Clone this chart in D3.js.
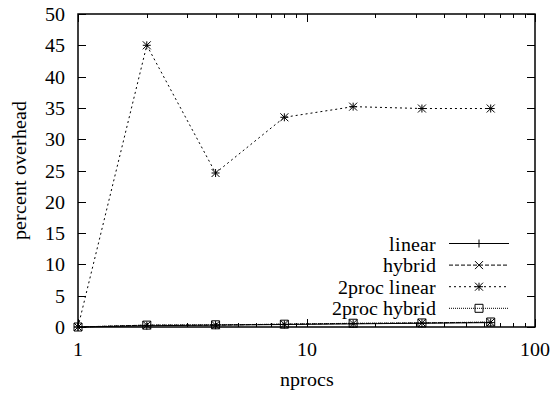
<!DOCTYPE html>
<html>
<head>
<meta charset="utf-8">
<script src="https://cdn.jsdelivr.net/npm/d3@7"></script>
<style>
  @font-face { font-family: "PlotSerif"; src: local("Liberation Serif"), local("LiberationSerif"), local("Liberation Serif Regular"), local("LiberationSerif-Regular"); }
  body { margin: 0; background: #fff; }
  svg text { font-family: "PlotSerif", "Liberation Serif", "Times New Roman", Tinos, serif !important; }
</style>
</head>
<body>
<script>
let width = 552;
let height = 396;
let margin = {left: 78, right: 17, top: 14, bottom: 69};
let fontFamily = '"PlotSerif", "Liberation Serif", "Times New Roman", Tinos, serif';
let fontSize = 20;

// data
let nprocs = [1, 2, 4, 8, 16, 32, 64];
let linear = [0, 0.2, 0.3, 0.4, 0.5, 0.6, 0.7];
let hybrid = [0, 0.3, 0.3, 0.45, 0.55, 0.65, 0.75];
let twoprocLinear = [0, 45, 24.6, 33.5, 35.2, 34.9, 34.9];
let twoprocHybrid = [0, 0.3, 0.35, 0.45, 0.6, 0.65, 0.8];
let yTicks = [0, 5, 10, 15, 20, 25, 30, 35, 40, 45, 50];
let xTicks = [1, 10, 100];

let series = [
    {name: "linear", values: linear, dash: null, point: "plus"},
    {name: "hybrid", values: hybrid, dash: "4,2", point: "cross"},
    {name: "2proc linear", values: twoprocLinear, dash: "2,3", point: "star"},
    {name: "2proc hybrid", values: twoprocHybrid, dash: "1,1", point: "box"}
];

let x = d3.scaleLog().domain([1, 100]).range([margin.left, width - margin.right]);
let y = d3.scaleLinear().domain([0, 50]).range([height - margin.bottom, margin.top]);

let svg = d3.select("body").append("svg")
    .attr("width", width)
    .attr("height", height);

let x0 = x.range()[0], x1 = x.range()[1];
let y0 = y.range()[0], y1 = y.range()[1];

function label(g, str) {
    return g.append("text")
        .attr("font-size", fontSize)
        .attr("font-family", fontFamily)
        .text(str);
}

// ticks (gnuplot style, inward + mirrored)
let ticks = svg.append("g").attr("stroke", "#000").attr("stroke-width", 1);
yTicks.forEach(v => {
    let yy = Math.round(y(v)) + 0.5;
    ticks.append("line").attr("x1", x0).attr("x2", x0 + 8).attr("y1", yy).attr("y2", yy);
    ticks.append("line").attr("x1", x1).attr("x2", x1 - 8).attr("y1", yy).attr("y2", yy);
});
let minor = [];
for (let d = 1; d < 100; d *= 10) for (let k = 1; k <= 10; k++) if (d * k <= 100) minor.push(d * k);
minor.forEach(v => {
    let major = xTicks.includes(v);
    let len = major ? 8 : 4;
    let xx = Math.round(x(v)) + 0.5;
    ticks.append("line").attr("x1", xx).attr("x2", xx).attr("y1", y0).attr("y2", y0 - len);
    ticks.append("line").attr("x1", xx).attr("x2", xx).attr("y1", y1).attr("y2", y1 + len);
});

// tick labels
let labels = svg.append("g");
yTicks.forEach(v => {
    label(labels, v).attr("text-anchor", "end")
        .attr("x", x0 - 13).attr("y", y(v)).attr("dy", "0.35em");
});
xTicks.forEach(v => {
    label(labels, v).attr("text-anchor", "middle")
        .attr("x", x(v)).attr("y", y0 + 29);
});

// axis titles
label(svg, "nprocs").attr("text-anchor", "middle")
    .attr("x", (x0 + x1) / 2).attr("y", y0 + 59);
label(svg, "percent overhead").attr("text-anchor", "middle")
    .attr("transform", `translate(26,${(y0 + y1) / 2}) rotate(-90)`);

function marker(g, type, cx, cy) {
    let s = 4;
    let p = g.append("path").attr("fill", "none").attr("stroke", "#000").attr("stroke-width", 1);
    if (type === "plus") p.attr("d", `M${cx - s},${cy}H${cx + s}M${cx},${cy - s}V${cy + s}`);
    if (type === "cross") p.attr("d", `M${cx - s},${cy - s}L${cx + s},${cy + s}M${cx - s},${cy + s}L${cx + s},${cy - s}`);
    if (type === "star") p.attr("d", `M${cx - s},${cy}H${cx + s}M${cx},${cy - s}V${cy + s}M${cx - s},${cy - s}L${cx + s},${cy + s}M${cx - s},${cy + s}L${cx + s},${cy - s}`);
    if (type === "box") p.attr("d", `M${cx - s},${cy - s}H${cx + s}V${cy + s}H${cx - s}Z`);
}

let line = d3.line().x(d => x(d[0])).y(d => y(d[1]));

let plot = svg.append("g");
series.forEach(s => {
    let pts = nprocs.map((n, i) => [n, s.values[i]]);
    plot.append("path")
        .attr("d", line(pts))
        .attr("fill", "none")
        .attr("stroke", "#000")
        .attr("stroke-width", 1)
        .attr("stroke-dasharray", s.dash);
    pts.forEach(p => marker(plot, s.point, x(p[0]), y(p[1])));
});

// legend
let legend = svg.append("g");
series.forEach((s, i) => {
    let ly = 243.5 + i * 21.6;
    label(legend, s.name).attr("text-anchor", "end")
        .attr("x", 436).attr("y", ly).attr("dy", "0.35em");
    legend.append("line").attr("x1", 449).attr("x2", 509).attr("y1", ly).attr("y2", ly)
        .attr("stroke", "#000").attr("stroke-width", 1).attr("stroke-dasharray", s.dash);
    marker(legend, s.point, 479, ly);
});

// frame
svg.append("rect")
    .attr("x", x0).attr("y", y1)
    .attr("width", x1 - x0).attr("height", y0 - y1)
    .attr("fill", "none").attr("stroke", "#000").attr("stroke-width", 1.5);
</script>
</body>
</html>
